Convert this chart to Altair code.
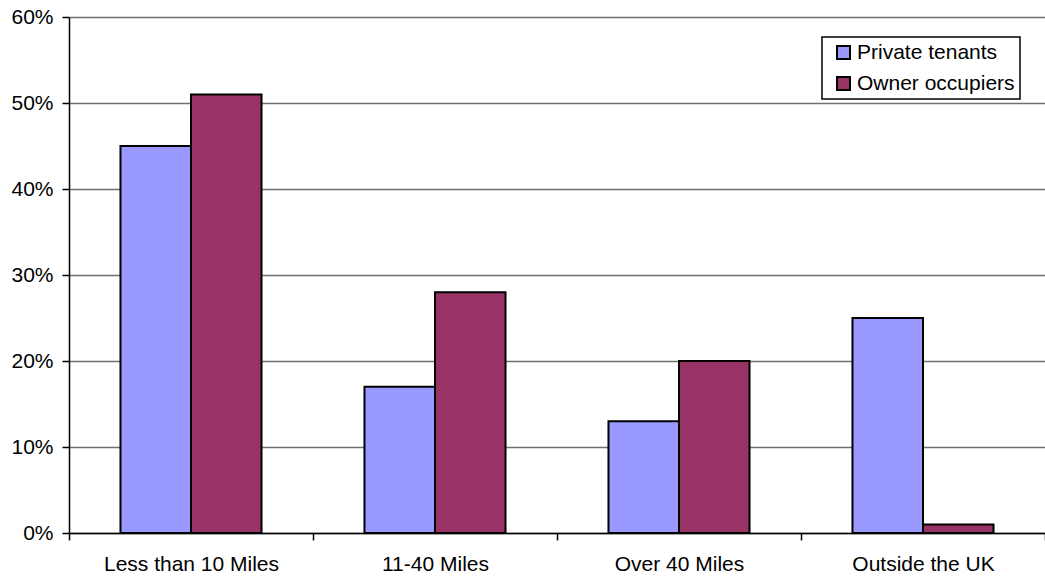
import altair as alt
import pandas as pd

# Distance from the property, by tenure type
categories = ["Less than 10 Miles", "11-40 Miles", "Over 40 Miles", "Outside the UK"]
series = ["Private tenants", "Owner occupiers"]
private_tenants = [0.45, 0.17, 0.13, 0.25]
owner_occupiers = [0.51, 0.28, 0.20, 0.01]
y_ticks = [0.0, 0.1, 0.2, 0.3, 0.4, 0.5, 0.6]
colors = ["#9999FF", "#993366"]

rows = []
for i, cat in enumerate(categories):
    rows.append({"category": cat, "series": series[0], "value": private_tenants[i]})
    rows.append({"category": cat, "series": series[1], "value": owner_occupiers[i]})
df = pd.DataFrame(rows)

FONT = "Liberation Sans"
SIZE = 21

chart = (
    alt.Chart(df)
    .mark_bar(stroke="black", strokeWidth=2)
    .encode(
        x=alt.X(
            "category:N",
            sort=categories,
            title=None,
            scale=alt.Scale(paddingInner=0, paddingOuter=0),
            axis=alt.Axis(
                labelAngle=0,
                tickBand="extent",
                tickSize=7,
                tickColor="#000000",
                domainColor="#000000",
                domainWidth=1.5,
                tickWidth=1.5,
                labelPadding=13,
                grid=False,
            ),
        ),
        xOffset=alt.XOffset(
            "series:N",
            sort=series,
            scale=alt.Scale(paddingInner=0, paddingOuter=0.73),
        ),
        y=alt.Y(
            "value:Q",
            title=None,
            scale=alt.Scale(domain=[0, 0.6], nice=False),
            axis=alt.Axis(
                values=y_ticks,
                format=".0%",
                tickSize=7,
                tickColor="#000000",
                tickWidth=1.5,
                domainColor="#000000",
                domainWidth=1.5,
                labelPadding=9,
                gridColor="#707070",
                gridWidth=1.5,
            ),
        ),
        color=alt.Color(
            "series:N",
            sort=series,
            title=None,
            scale=alt.Scale(domain=series, range=colors),
            legend=alt.Legend(
                orient="none",
                legendX=753,
                legendY=20,
                symbolType="square",
                symbolSize=169,
                symbolStrokeColor="black",
                symbolStrokeWidth=2,
                symbolOffset=6,
                labelFontSize=SIZE,
                labelFont=FONT,
                labelColor="black",
                labelOffset=3,
                labelExpr="datum.label + '    '",
                rowPadding=9,
                padding=5,
                strokeColor="black",
                fillColor="white",
            ),
        ),
    )
    .properties(width=976, height=516)
    .configure(font=FONT, padding={"left": 69, "top": 17, "right": 0, "bottom": 44}, autosize="none")
    .configure_view(stroke=None)
    .configure_axis(labelFont=FONT, labelFontSize=SIZE, labelColor="black")
    .configure_legend(cornerRadius=0, strokeWidth=1.5)
)

chart.save("out.html", embed_options={"renderer": "svg", "actions": False})
